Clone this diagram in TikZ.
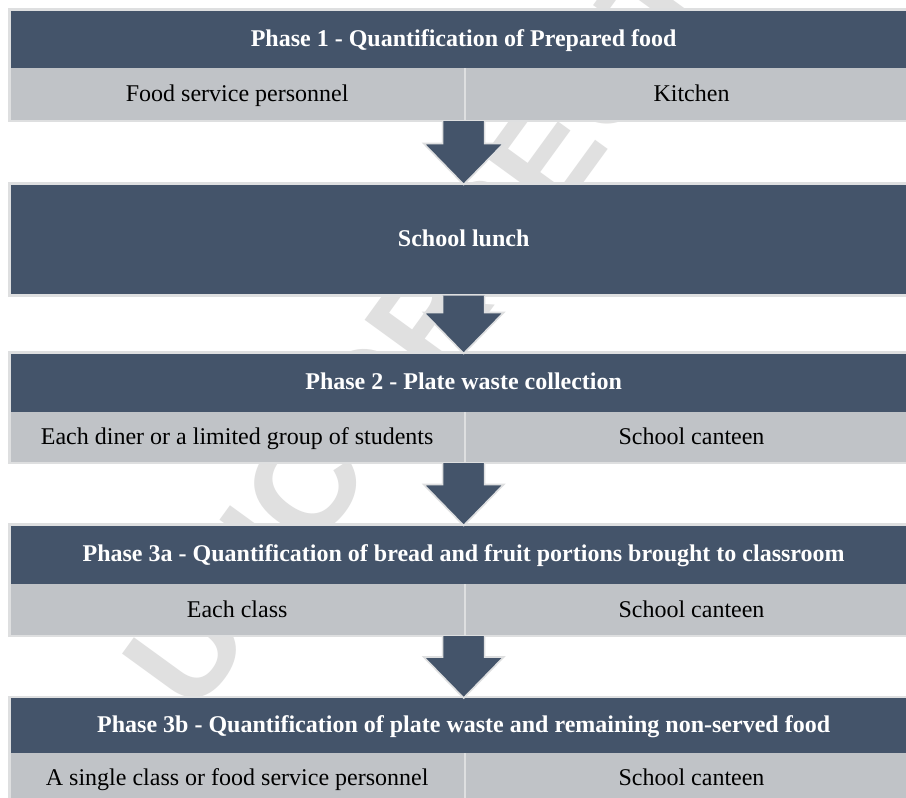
\documentclass[tikz,border=0pt]{standalone}
\usepackage{fontspec}
\setmainfont{Liberation Serif}
\newfontfamily\wmfont{Liberation Sans}
\usetikzlibrary{calc}
\definecolor{hdr}{HTML}{44546A}
\definecolor{cellgray}{HTML}{C0C3C7}
\definecolor{edge}{HTML}{DEDFE0}
\definecolor{wm}{HTML}{E0E0E0}
\newcommand\phasearrow[2]{%
  \coordinate (s-#2) at (#1 -| #2.north);
  \coordinate (t-#2) at ($(#2.north)+(0,1)$);
  \draw[flowarrow] ($(s-#2)+(-21,0)$) -- ($(t-#2)+(-21,-41)$) -- ($(t-#2)+(-40,-41)$)
     -- (t-#2) -- ($(t-#2)+(40,-41)$) -- ($(t-#2)+(21,-41)$) -- ($(s-#2)+(21,0)$);}
\begin{document}
\begin{tikzpicture}[x=1pt,y=-1pt,
  hdrbox/.style={fill=hdr, text=white, font=\fontsize{24}{28}\selectfont\bfseries,
    inner sep=0pt, outer sep=0pt, minimum width=908.65pt, anchor=north west,
    text height=18pt, text depth=3.2pt},
  cellbox/.style={fill=cellgray, text=black, font=\fontsize{24}{28}\selectfont,
    inner sep=0pt, outer sep=0pt, anchor=north west,
    text height=18pt, text depth=3.6pt},
  lcell/.style={cellbox, minimum width=455.65pt},
  rcell/.style={cellbox, minimum width=453pt},
  frame/.style={draw=edge, line width=2.7pt},
  coldiv/.style={draw=edge, line width=2pt},
  flowarrow/.style={fill=hdr, draw=edge, line width=1.6pt, line join=miter},
  wmtext/.style={text=wm, font=\wmfont\bfseries\fontsize{140}{140}\selectfont, inner sep=0pt}
]
\useasboundingbox (0,0) rectangle (906,798);
\clip (0,0) rectangle (906,798);
\fill[white] (0,0) rectangle (906,798);
% watermark
\node[wmtext, rotate=54, anchor=base west] (wm) at (195,718) {UNCORRECTED PROOF};
% block positions
\path (9.35,9.35) coordinate (p1) (9.35,183.5) coordinate (p2) (9.35,352.5) coordinate (p3)
      (9.35,524.5) coordinate (p4) (9.35,697) coordinate (p5);
% block 1
\node[hdrbox, minimum height=58.65pt] (h1) at (p1) {Phase 1 - Quantification of Prepared food};
\node[lcell, minimum height=53pt] (c1a) at (h1.south west) {Food service personnel};
\node[rcell, minimum height=53pt] (c1b) at (c1a.north east) {Kitchen};
% block 2
\node[hdrbox, minimum height=112pt] (h2) at (p2) {School lunch};
% block 3
\node[hdrbox, minimum height=59.5pt] (h3) at (p3) {Phase 2 - Plate waste collection};
\node[lcell, minimum height=51pt] (c3a) at (h3.south west) {Each diner or a limited group of students};
\node[rcell, minimum height=51pt] (c3b) at (c3a.north east) {School canteen};
% block 4
\node[hdrbox, minimum height=59.5pt] (h4) at (p4) {Phase 3a - Quantification of bread and fruit portions brought to classroom};
\node[lcell, minimum height=52pt] (c4a) at (h4.south west) {Each class};
\node[rcell, minimum height=52pt] (c4b) at (c4a.north east) {School canteen};
% block 5
\node[hdrbox, minimum height=56pt] (h5) at (p5) {Phase 3b - Quantification of plate waste and remaining non-served food};
\node[lcell, minimum height=50pt] (c5a) at (h5.south west) {A single class or food service personnel};
\node[rcell, minimum height=50pt] (c5b) at (c5a.north east) {School canteen};
% frames
\draw[frame] (h1.north west) rectangle (c1b.south east);
\draw[frame] (h2.north west) rectangle (h2.south east);
\draw[frame] (h3.north west) rectangle (c3b.south east);
\draw[frame] (h4.north west) rectangle (c4b.south east);
\draw[frame] (h5.north west) rectangle (c5b.south east);
\draw[coldiv] (c1a.north east) -- (c1a.south east);
\draw[coldiv] (c3a.north east) -- (c3a.south east);
\draw[coldiv] (c4a.north east) -- (c4a.south east);
\draw[coldiv] (c5a.north east) -- (c5a.south east);
% arrows
\phasearrow{c1a.south}{h2}
\phasearrow{h2.south}{h3}
\phasearrow{c3a.south}{h4}
\phasearrow{c4a.south}{h5}
\end{tikzpicture}
\end{document}
